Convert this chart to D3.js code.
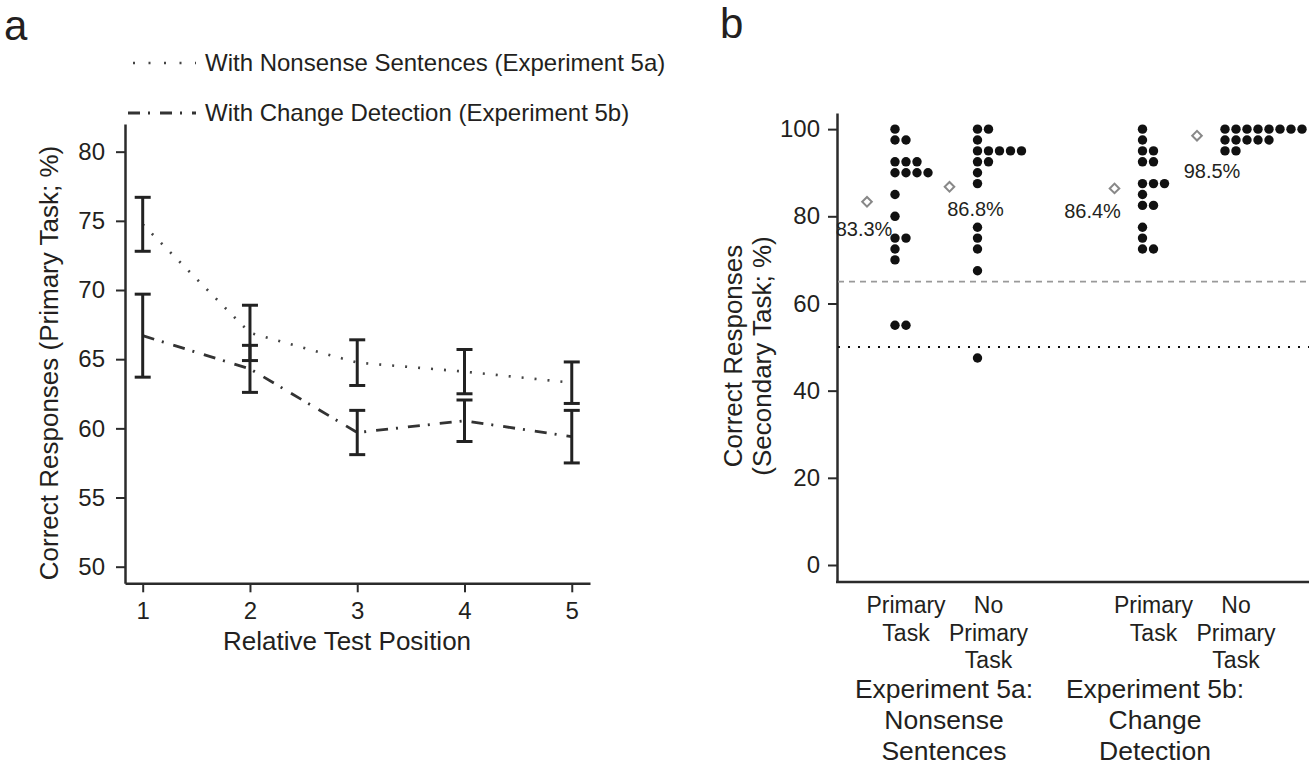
<!DOCTYPE html>
<html>
<head>
<meta charset="utf-8">
<script src="https://cdn.jsdelivr.net/npm/d3@7"></script>
<style>
  body { margin: 0; background: #fff; }
  text { font-family: "Liberation Sans", Arial, sans-serif; fill: #231f20; }
</style>
</head>
<body>
<svg id="chart" width="1309" height="784"></svg>
<script>
// ---- panel a data ----
const testPositions = [1, 2, 3, 4, 5];
const nonsenseMean = [74.75, 66.9, 64.75, 64.1, 63.3];
const nonsenseErr  = [1.95, 2.0, 1.65, 1.6, 1.5];
const changeMean   = [66.7, 64.3, 59.7, 60.55, 59.4];
const changeErr    = [3.0, 1.7, 1.6, 1.5, 1.9];
const leftTicks    = [50, 55, 60, 65, 70, 75, 80];
const legendLabels = ["With Nonsense Sentences (Experiment 5a)", "With Change Detection (Experiment 5b)"];

// ---- panel b data (one value per participant) ----
const groupKeys   = ["p5a", "n5a", "gap", "p5b", "n5b"];
const p5aScores = [100, 97.5, 97.5, 92.5, 92.5, 92.5, 90, 90, 90, 90, 85, 80, 75, 75, 72.5, 70, 55, 55];
const n5aScores = [100, 100, 97.5, 95, 95, 95, 95, 95, 92.5, 92.5, 90, 87.5, 77.5, 75, 72.5, 67.5, 47.5];
const p5bScores = [100, 97.5, 95, 95, 92.5, 92.5, 87.5, 87.5, 87.5, 85, 82.5, 82.5, 77.5, 75, 72.5, 72.5];
const n5bScores = [100, 100, 100, 100, 100, 100, 100, 100, 97.5, 97.5, 97.5, 97.5, 97.5, 95, 95];
const categoryLabels = [["Primary", "Task"], ["No", "Primary", "Task"], ["Primary", "Task"], ["No", "Primary", "Task"]];
const experimentLabels = [["Experiment 5a:", "Nonsense", "Sentences"], ["Experiment 5b:", "Change", "Detection"]];
const rightTicks = [0, 20, 40, 60, 80, 100];
const chanceLines = [65, 50];

const svg = d3.select("#chart");
const ink = "#2b2b2b";

// ================= panel a =================
const xa = d3.scaleLinear().domain([0.835, 5.17]).range([125, 590]);
const ya = d3.scaleLinear().domain([48.8, 82]).range([583.3, 124]);

svg.append("text").attr("x", 4).attr("y", 40).style("font-size", "42px").text("a");

const axA = svg.append("g").attr("transform", "translate(125,0)")
    .call(d3.axisLeft(ya).tickValues(leftTicks).tickSize(9).tickSizeOuter(0).tickPadding(11));
const axAx = svg.append("g").attr("transform", "translate(0,583.3)")
    .call(d3.axisBottom(xa).tickValues(testPositions).tickFormat(d3.format("d"))
        .tickSize(9).tickSizeOuter(0).tickPadding(10));
[axA, axAx].forEach(ax => {
    ax.select(".domain").attr("stroke", ink).attr("stroke-width", 2.5);
    ax.selectAll(".tick line").attr("stroke", ink).attr("stroke-width", 2);
    ax.selectAll(".tick text").style("font-size", "24px").attr("fill", "#231f20");
});

svg.append("text")
    .attr("transform", "translate(58,363) rotate(-90)")
    .attr("text-anchor", "middle").style("font-size", "26px")
    .text("Correct Responses (Primary Task; %)");
svg.append("text").attr("x", 347).attr("y", 650)
    .attr("text-anchor", "middle").style("font-size", "26px")
    .text("Relative Test Position");

const seriesA = [
    {mean: nonsenseMean, err: nonsenseErr, dash: "2,11", width: 2.6, color: "#444"},
    {mean: changeMean, err: changeErr, dash: "12,8,2,10", width: 2.8, color: "#333"}
];

const lineA = d3.line().x((d, i) => xa(testPositions[i])).y(d => ya(d));
seriesA.forEach(s => {
    svg.append("path")
        .attr("d", lineA(s.mean))
        .attr("fill", "none")
        .attr("stroke", s.color)
        .attr("stroke-width", s.width)
        .attr("stroke-dasharray", s.dash);
});

seriesA.forEach(s => {
    const eb = svg.append("g").selectAll("g")
        .data(s.mean.map((m, i) => ({x: testPositions[i], m, e: s.err[i]})))
        .join("g")
        .attr("stroke", "#222").attr("stroke-width", 3);
    eb.append("line")
        .attr("x1", d => xa(d.x)).attr("x2", d => xa(d.x))
        .attr("y1", d => ya(d.m + d.e)).attr("y2", d => ya(d.m - d.e));
    eb.append("line")
        .attr("x1", d => xa(d.x) - 8).attr("x2", d => xa(d.x) + 8)
        .attr("y1", d => ya(d.m + d.e)).attr("y2", d => ya(d.m + d.e));
    eb.append("line")
        .attr("x1", d => xa(d.x) - 8).attr("x2", d => xa(d.x) + 8)
        .attr("y1", d => ya(d.m - d.e)).attr("y2", d => ya(d.m - d.e));
});

// legend
const leg = svg.append("g");
const legendDash = ["2,13.5", "12,8,2,10"];
legendLabels.forEach((lab, i) => {
    const yy = 63 + i * 50;
    leg.append("line")
        .attr("x1", i ? 128 : 133).attr("x2", 196).attr("y1", yy).attr("y2", yy)
        .attr("stroke", seriesA[i].color)
        .attr("stroke-width", seriesA[i].width)
        .attr("stroke-dasharray", legendDash[i]);
    leg.append("text").attr("x", 205).attr("y", yy + 8)
        .style("font-size", "24px").text(lab);
});

// ================= panel b =================
const xb = d3.scalePoint().domain(groupKeys).range([895, 1225]);
const yb = d3.scaleLinear().domain([-3.9, 103.7]).range([582, 113]);
const dotStep = 11;

svg.append("text").attr("x", 720).attr("y", 38).style("font-size", "42px").text("b");

const axB = svg.append("g").attr("transform", "translate(837,0)")
    .call(d3.axisLeft(yb).tickValues(rightTicks).tickSize(9).tickSizeOuter(0).tickPadding(8));
axB.select(".domain").attr("stroke", ink).attr("stroke-width", 2.5);
axB.selectAll(".tick line").attr("stroke", ink).attr("stroke-width", 2);
axB.selectAll(".tick text").style("font-size", "24px").attr("fill", "#231f20");
svg.append("line").attr("x1", 836).attr("x2", 1309).attr("y1", 582).attr("y2", 582)
    .attr("stroke", ink).attr("stroke-width", 2.5);

svg.append("text")
    .attr("transform", "translate(742,356) rotate(-90)")
    .attr("text-anchor", "middle").style("font-size", "26px")
    .text("Correct Responses");
svg.append("text")
    .attr("transform", "translate(771,356) rotate(-90)")
    .attr("text-anchor", "middle").style("font-size", "26px")
    .text("(Secondary Task; %)");

// chance / threshold lines
svg.append("line").attr("x1", 838).attr("x2", 1309)
    .attr("y1", yb(chanceLines[0])).attr("y2", yb(chanceLines[0]))
    .attr("stroke", "#999").attr("stroke-width", 1.8).attr("stroke-dasharray", "6,5");
svg.append("line").attr("x1", 838).attr("x2", 1309)
    .attr("y1", yb(chanceLines[1])).attr("y2", yb(chanceLines[1]))
    .attr("stroke", "#111").attr("stroke-width", 2).attr("stroke-dasharray", "2,8");

const groupsB = [
    {key: "p5a", scores: p5aScores, lab: [-3, 34]},
    {key: "n5a", scores: n5aScores, lab: [26, 29]},
    {key: "p5b", scores: p5bScores, lab: [-22, 30]},
    {key: "n5b", scores: n5bScores, lab: [15, 42]}
];

groupsB.forEach((g, gi) => {
    const counts = {};
    const dots = g.scores.map(v => {
        const k = counts[v] || 0;
        counts[v] = k + 1;
        return {v, k};
    });
    svg.append("g").selectAll("circle")
        .data(dots)
        .join("circle")
        .attr("cx", d => xb(g.key) + d.k * dotStep)
        .attr("cy", d => yb(d.v))
        .attr("r", 4.7)
        .attr("fill", "#111");

    const m = d3.mean(g.scores);
    const dx = xb(g.key) - 28;
    svg.append("path")
        .attr("d", d3.symbol(d3.symbolSquare, 46)())
        .attr("transform", `translate(${dx},${yb(m)}) rotate(45)`)
        .attr("fill", "#fff").attr("stroke", "#888").attr("stroke-width", 2);
    svg.append("text")
        .attr("x", dx + g.lab[0]).attr("y", yb(m) + g.lab[1])
        .attr("text-anchor", "middle").style("font-size", "20px")
        .text(m.toFixed(1) + "%");

    categoryLabels[gi].forEach((t, li) => {
        svg.append("text")
            .attr("x", xb(g.key) + 11).attr("y", 613 + li * 27.5)
            .attr("text-anchor", "middle").style("font-size", "23px")
            .text(t);
    });
});

experimentLabels.forEach((lines, ei) => {
    const cx = ei ? 1155 : 944;
    lines.forEach((t, li) => {
        svg.append("text")
            .attr("x", cx).attr("y", 698 + li * 31)
            .attr("text-anchor", "middle").style("font-size", "26.5px")
            .text(t);
    });
});
</script>
</body>
</html>
